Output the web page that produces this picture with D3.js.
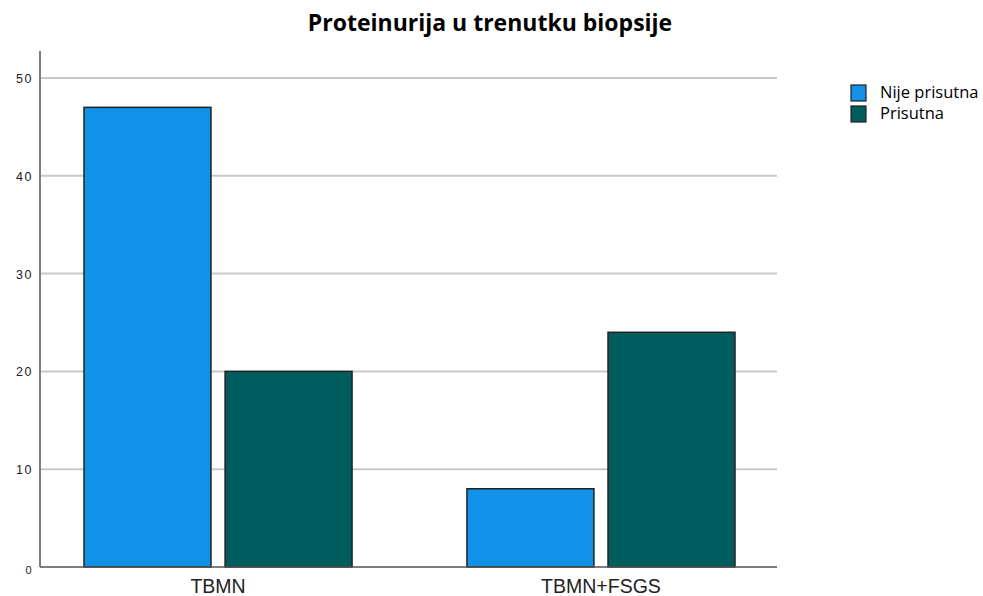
<!DOCTYPE html>
<html>
<head>
<meta charset="utf-8">
<script src="https://cdn.jsdelivr.net/npm/d3@7"></script>
<style>
  body { margin: 0; background: #fff; }
  svg { display: block; }
</style>
</head>
<body>
<svg id="chart" width="983" height="596"></svg>
<script>
'use strict'

const categories = ['TBMN', 'TBMN+FSGS']
const series = ['Nije prisutna', 'Prisutna']
const nijePrisutna = [47, 8]
const prisutna = [20, 24]
const yTicks = [0, 10, 20, 30, 40, 50]
const colors = ['#1192e8', '#005d5d']

const svg = d3.select('#chart')

// scales
const y = d3.scaleLinear().domain([0, 50]).range([567, 78])
const x0 = d3.scaleBand().domain(categories).range([84, 735]).paddingInner(0.3)
const x1 = d3.scaleBand().domain(series).range([0, x0.bandwidth()]).paddingInner(0.1)
const color = d3.scaleOrdinal().domain(series).range(colors)

const rows = categories.map((c, i) => ({
  cat: c,
  values: [
    { key: series[0], value: nijePrisutna[i] },
    { key: series[1], value: prisutna[i] }
  ]
}))

// title
svg.append('text')
  .attr('x', 490).attr('y', 31)
  .attr('text-anchor', 'middle')
  .style('font-family', '"Open Sans", sans-serif')
  .style('font-weight', 'bold')
  .style('font-size', '23px')
  .style('fill', '#000')
  .text('Proteinurija u trenutku biopsije')

// gridlines
svg.append('g').selectAll('line')
  .data(yTicks.filter(d => d > 0))
  .enter().append('line')
  .attr('x1', 41).attr('x2', 777)
  .attr('y1', d => y(d)).attr('y2', d => y(d))
  .style('stroke', '#c8c8c8')
  .style('stroke-width', 2)

// bars
const groups = svg.append('g').selectAll('g')
  .data(rows)
  .enter().append('g')
  .attr('transform', d => 'translate(' + x0(d.cat) + ',0)')

groups.selectAll('rect')
  .data(d => d.values)
  .enter().append('rect')
  .attr('x', d => x1(d.key))
  .attr('y', d => y(d.value))
  .attr('width', x1.bandwidth())
  .attr('height', d => y(0) - y(d.value))
  .style('fill', d => color(d.key))
  .style('stroke', '#222')
  .style('stroke-width', 1.5)

// x axis line
svg.append('line')
  .attr('x1', 40).attr('x2', 777)
  .attr('y1', y(0)).attr('y2', y(0))
  .style('stroke', '#555').style('stroke-width', 1.5)

// y axis line
svg.append('line')
  .attr('x1', 40).attr('x2', 40)
  .attr('y1', 51).attr('y2', y(0))
  .style('stroke', '#555').style('stroke-width', 1.5)

// y tick labels
svg.append('g').selectAll('text')
  .data(yTicks)
  .enter().append('text')
  .attr('x', 33)
  .attr('y', d => d === 0 ? y(d) + 7 : y(d) + 5)
  .attr('text-anchor', 'end')
  .style('font-family', 'Arial, "Liberation Sans", sans-serif')
  .style('font-size', d => d === 0 ? '11px' : '12.5px')
  .style('letter-spacing', '1.5px')
  .style('fill', '#222')
  .text(d => d)

// category labels
svg.append('g').selectAll('text')
  .data(categories)
  .enter().append('text')
  .attr('x', d => x0(d) + x0.bandwidth() / 2)
  .attr('y', 593)
  .attr('text-anchor', 'middle')
  .style('font-family', 'Arial, "Liberation Sans", sans-serif')
  .style('font-size', '19.5px')
  .style('fill', '#222')
  .text(d => d)

// legend
const legend = svg.append('g').selectAll('g')
  .data(series)
  .enter().append('g')
  .attr('transform', (d, i) => 'translate(851,' + (85 + i * 21) + ')')

legend.append('rect')
  .attr('width', 15).attr('height', 16)
  .style('fill', d => color(d))
  .style('stroke', '#222')
  .style('stroke-width', 1.2)

legend.append('text')
  .attr('x', 29).attr('y', 13)
  .style('font-family', '"Open Sans", sans-serif')
  .style('font-size', '16.5px')
  .style('fill', '#000')
  .text(d => d)
</script>
</body>
</html>
